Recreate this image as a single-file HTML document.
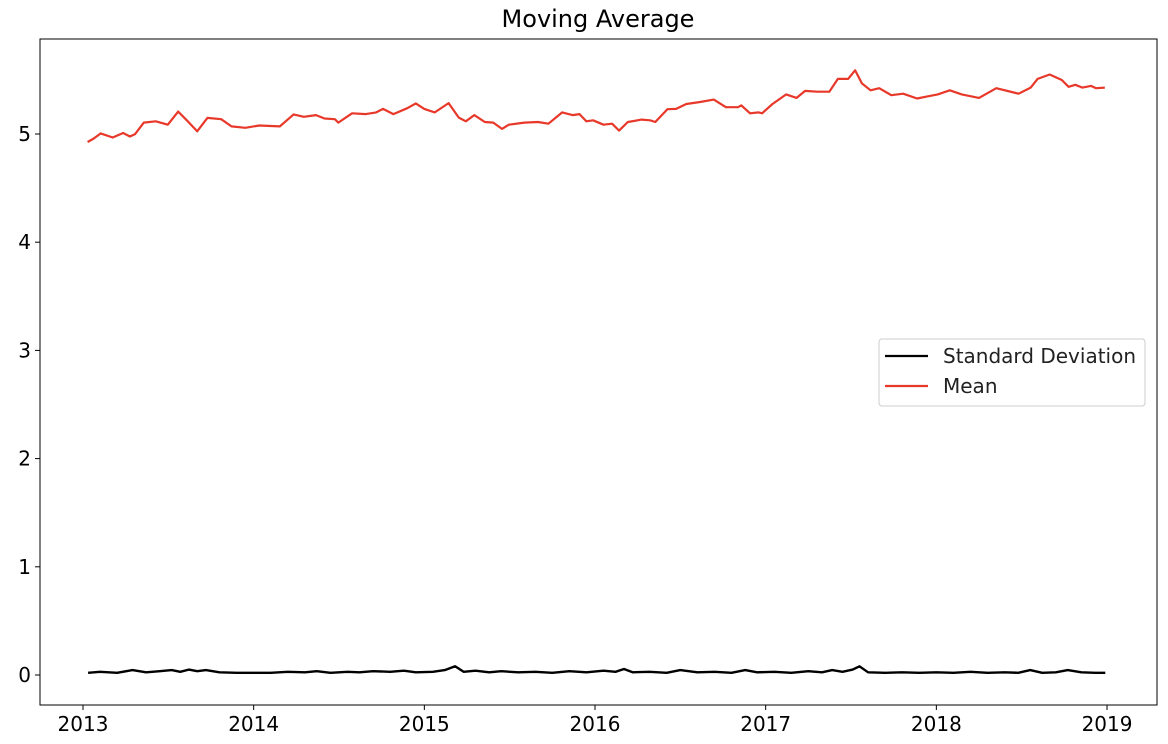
<!DOCTYPE html>
<html><head><meta charset="utf-8">
<style>
html,body{margin:0;padding:0;background:#fff;}
svg{display:block;font-family:"DejaVu Sans","Liberation Sans",sans-serif;}
</style></head>
<body>
<svg id="chart" width="1168" height="744" viewBox="0 0 1168 744">
</svg>
<script>
const yTicks = [0, 1, 2, 3, 4, 5];
const xTicks = [2013, 2014, 2015, 2016, 2017, 2018, 2019];
const meanDates = [2013.027,2013.063,2013.104,2013.174,2013.235,2013.275,2013.305,2013.356,2013.426,2013.497,2013.558,2013.608,2013.669,2013.729,2013.810,2013.870,2013.951,2014.032,2014.153,2014.234,2014.294,2014.365,2014.415,2014.476,2014.496,2014.577,2014.657,2014.718,2014.758,2014.819,2014.900,2014.950,2015.000,2015.061,2015.142,2015.202,2015.243,2015.293,2015.354,2015.404,2015.455,2015.495,2015.586,2015.666,2015.727,2015.808,2015.868,2015.909,2015.949,2015.989,2016.050,2016.100,2016.141,2016.192,2016.273,2016.323,2016.353,2016.424,2016.475,2016.535,2016.616,2016.696,2016.767,2016.838,2016.858,2016.908,2016.959,2016.979,2017.040,2017.120,2017.181,2017.231,2017.302,2017.373,2017.423,2017.483,2017.524,2017.564,2017.615,2017.665,2017.736,2017.806,2017.887,2017.958,2018.008,2018.079,2018.149,2018.250,2018.351,2018.482,2018.553,2018.593,2018.664,2018.735,2018.775,2018.815,2018.856,2018.906,2018.936,2018.987];
const meanValues = [4.926,4.958,5.006,4.968,5.009,4.977,4.999,5.105,5.117,5.086,5.207,5.127,5.025,5.149,5.137,5.070,5.057,5.079,5.070,5.181,5.159,5.175,5.143,5.137,5.105,5.191,5.184,5.200,5.232,5.184,5.238,5.283,5.232,5.200,5.286,5.152,5.117,5.175,5.111,5.105,5.047,5.086,5.105,5.111,5.095,5.200,5.175,5.184,5.117,5.127,5.086,5.095,5.031,5.111,5.133,5.127,5.111,5.229,5.232,5.277,5.296,5.318,5.248,5.248,5.264,5.191,5.200,5.191,5.277,5.366,5.334,5.398,5.391,5.391,5.509,5.509,5.589,5.468,5.404,5.423,5.359,5.372,5.328,5.350,5.366,5.404,5.366,5.334,5.423,5.372,5.429,5.509,5.550,5.499,5.436,5.455,5.429,5.445,5.423,5.429];
const stdDates = [2013.03,2013.1,2013.2,2013.29,2013.37,2013.45,2013.52,2013.57,2013.62,2013.67,2013.72,2013.8,2013.9,2014.0,2014.1,2014.2,2014.3,2014.37,2014.45,2014.55,2014.62,2014.7,2014.8,2014.88,2014.95,2015.05,2015.12,2015.18,2015.23,2015.3,2015.38,2015.45,2015.55,2015.65,2015.75,2015.85,2015.95,2016.05,2016.12,2016.17,2016.22,2016.32,2016.42,2016.5,2016.6,2016.7,2016.8,2016.88,2016.95,2017.05,2017.15,2017.25,2017.33,2017.39,2017.45,2017.51,2017.55,2017.6,2017.7,2017.8,2017.9,2018.0,2018.1,2018.2,2018.3,2018.4,2018.48,2018.55,2018.62,2018.7,2018.77,2018.85,2018.93,2018.99];
const stdValues = [0.02,0.03,0.02,0.045,0.025,0.035,0.045,0.03,0.05,0.035,0.045,0.025,0.02,0.02,0.02,0.03,0.025,0.035,0.02,0.03,0.025,0.035,0.03,0.04,0.025,0.03,0.045,0.08,0.03,0.04,0.025,0.035,0.025,0.03,0.02,0.035,0.025,0.04,0.03,0.055,0.025,0.03,0.02,0.045,0.025,0.03,0.02,0.045,0.025,0.03,0.02,0.035,0.025,0.045,0.03,0.05,0.08,0.025,0.02,0.025,0.02,0.025,0.02,0.03,0.02,0.025,0.02,0.045,0.02,0.025,0.045,0.025,0.02,0.02];

const svg = document.getElementById('chart');
const NS = 'http://www.w3.org/2000/svg';
const L = 40, R = 1157, T = 39, B = 705;
function xs(d){ return 83 + (d - 2013) * 170.67; }
function ys(v){ return 675 - v * 108.2; }
function mk(tag, attrs){ const e = document.createElementNS(NS, tag); for (const k in attrs) e.setAttribute(k, attrs[k]); svg.appendChild(e); return e; }

const title = mk('text', {x: 598, y: 27, 'text-anchor': 'middle', 'font-size': 24, fill: '#000'});
title.textContent = 'Moving Average';



yTicks.forEach(v => {
  const t = mk('line', {x1: L - 5, x2: L, y1: ys(v), y2: ys(v), stroke: '#000', 'stroke-width': 1});
  
  
  const lb = mk('text', {x: L - 9, y: ys(v) + 7, 'text-anchor': 'end', 'font-size': 20, fill: '#000'});
  lb.textContent = v;
  
  
});
xTicks.forEach(d => {
  const t = mk('line', {x1: xs(d), x2: xs(d), y1: B, y2: B + 5, stroke: '#000', 'stroke-width': 1});
  
  
  const lb = mk('text', {x: xs(d), y: B + 26, 'text-anchor': 'middle', 'font-size': 20, fill: '#000'});
  lb.textContent = d;
  
  
});

function pathFrom(ds, vs){ return ds.map((d, i) => (i ? 'L' : 'M') + xs(d).toFixed(1) + ' ' + ys(vs[i]).toFixed(1)).join(' '); }
const stdLine = mk('path', {d: pathFrom(stdDates, stdValues), fill: 'none', stroke: '#000', 'stroke-width': 2.4, 'stroke-linejoin': 'round'});


const meanLine = mk('path', {d: pathFrom(meanDates, meanValues), fill: 'none', stroke: '#e8382a', 'stroke-width': 2.2, 'stroke-linejoin': 'round'});



const frame = mk('rect', {x: L, y: T, width: R - L, height: B - T, fill: 'none', stroke: '#000', 'stroke-width': 1});



const legend = mk('rect', {x: 879, y: 339, width: 266, height: 67, rx: 3, fill: '#fff', stroke: '#ccc', 'stroke-width': 1});


const l1 = mk('line', {x1: 885, x2: 928, y1: 356, y2: 356, stroke: '#000', 'stroke-width': 2.2});


const t1 = mk('text', {x: 943, y: 363, 'font-size': 20, fill: '#222'});
t1.textContent = 'Standard Deviation';


const l2 = mk('line', {x1: 885, x2: 928, y1: 386, y2: 386, stroke: '#e8382a', 'stroke-width': 2.2});


const t2 = mk('text', {x: 943, y: 393, 'font-size': 20, fill: '#222'});
t2.textContent = 'Mean';


</script>
</body></html>
